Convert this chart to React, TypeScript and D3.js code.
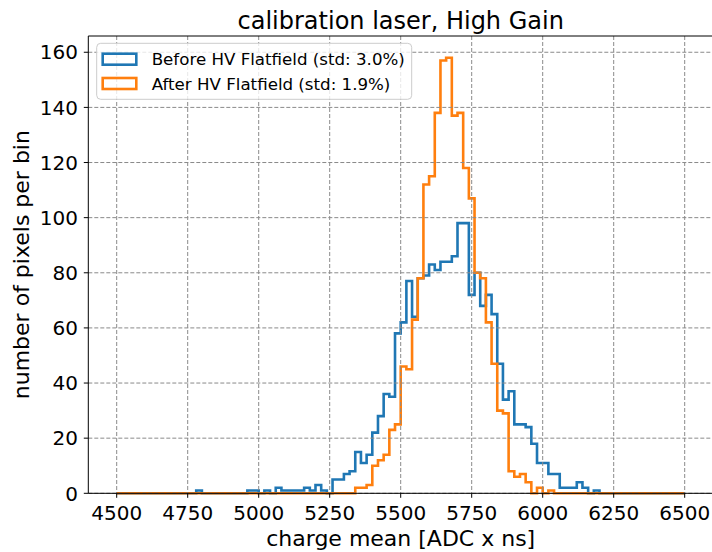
import React from 'react';
import * as d3 from 'd3';

const binStart = 4500;
const binWidth = 20;
const nBins = 100;

const beforeCounts = [
  0, 0, 0, 0, 0, 0, 0, 0, 0, 0,
  0, 0, 0, 0, 1, 0, 0, 0, 0, 0,
  0, 0, 0, 1, 1, 0, 1, 0, 2, 1,
  1, 1, 1, 2, 1, 3, 1, 0, 5, 5,
  7, 8, 15, 11, 14, 22, 28, 36, 35, 58,
  62, 77, 64, 78, 79, 83, 81, 84, 84, 86,
  98, 98, 72, 80, 68, 72, 65, 47, 34, 37,
  25, 25, 24, 18, 11, 11, 7, 7, 2, 2,
  2, 4, 2, 0, 1, 0, 0, 0, 0, 0,
  0, 0, 0, 0, 0, 0, 0, 0, 0, 0,
];

const afterCounts = [
  0, 0, 0, 0, 0, 0, 0, 0, 0, 0,
  0, 0, 0, 0, 0, 0, 0, 0, 0, 0,
  0, 0, 0, 0, 0, 0, 0, 0, 0, 0,
  0, 0, 0, 0, 0, 0, 0, 0, 0, 0,
  0, 0, 2, 2, 3, 10, 12, 14, 23, 25,
  46, 45, 63, 78, 112, 115, 138, 157, 158, 137,
  138, 118, 107, 80, 78, 62, 47, 30, 29, 8,
  6, 7, 4, 0, 2, 0, 1, 0, 0, 0,
  0, 0, 0, 0, 0, 0, 0, 0, 0, 0,
  0, 0, 0, 0, 0, 0, 0, 0, 0, 0,
];

const seriesLabels = ['Before HV Flatfield (std: 3.0%)', 'After HV Flatfield (std: 1.9%)'];
const seriesColors = ['#1f77b4', '#ff7f0e'];
const xTicks = [4500, 4750, 5000, 5250, 5500, 5750, 6000, 6250, 6500];
const yTicks = [0, 20, 40, 60, 80, 100, 120, 140, 160];
const title = 'calibration laser, High Gain';
const xLabel = 'charge mean [ADC x ns]';
const yLabel = 'number of pixels per bin';

const W = 712;
const H = 552;
const left = 88.3;
const right = 713.1;
const top = 36;
const bottom = 493.3;
const FONT = 'DejaVu Sans, sans-serif';

export default function App() {
  const x = d3.scaleLinear().domain([4400, 6600]).range([left, right]);
  const y = d3.scaleLinear().domain([0, 165.9]).range([bottom, top]);
  const edges = d3.range(nBins + 1).map((i) => binStart + i * binWidth);

  const stepPath = (counts: number[]) => {
    const pts: [number, number][] = [[edges[0], 0]];
    counts.forEach((c, i) => {
      pts.push([edges[i], c]);
      pts.push([edges[i + 1], c]);
    });
    pts.push([edges[nBins], 0]);
    return d3
      .line<[number, number]>()
      .x((d) => x(d[0]))
      .y((d) => y(d[1]))(pts) as string;
  };

  const series = [beforeCounts, afterCounts];

  return (
    <svg
      width={W}
      height={H}
      style={{ position: 'absolute', left: 0, top: 0, background: '#fff' }}
      fontFamily={FONT}
    >
      <rect x={0} y={0} width={W} height={H} fill="#fff" />
      {series.map((s, i) => (
        <path
          key={i}
          d={stepPath(s)}
          fill="none"
          stroke={seriesColors[i]}
          strokeWidth={2.6}
          strokeLinejoin="miter"
        />
      ))}
      {/* grid */}
      {xTicks.map((t) => (
        <line
          key={'gx' + t}
          x1={x(t)}
          x2={x(t)}
          y1={top}
          y2={bottom}
          stroke="#8a8a8a"
          strokeWidth={1}
          strokeDasharray="4,2"
        />
      ))}
      {yTicks.map((t) => (
        <line
          key={'gy' + t}
          x1={left}
          x2={right}
          y1={y(t)}
          y2={y(t)}
          stroke="#8a8a8a"
          strokeWidth={1}
          strokeDasharray="4,2"
        />
      ))}
      {/* spines */}
      <line x1={left} x2={left} y1={top} y2={bottom} stroke="#000" strokeWidth={1} />
      <line x1={left} x2={right} y1={bottom} y2={bottom} stroke="#000" strokeWidth={1} />
      <line x1={left} x2={right} y1={top} y2={top} stroke="#000" strokeWidth={1} />
      <line x1={right} x2={right} y1={top} y2={bottom} stroke="#000" strokeWidth={1} />
      {/* ticks */}
      {xTicks.map((t) => (
        <g key={'tx' + t}>
          <line x1={x(t)} x2={x(t)} y1={bottom} y2={bottom + 4.5} stroke="#000" strokeWidth={1} />
          <text x={x(t)} y={520} fontSize={20} textAnchor="middle" fill="#000">
            {t}
          </text>
        </g>
      ))}
      {yTicks.map((t) => (
        <g key={'ty' + t}>
          <line x1={left - 4.5} x2={left} y1={y(t)} y2={y(t)} stroke="#000" strokeWidth={1} />
          <text x={78} y={y(t)} dy="0.36em" fontSize={20} textAnchor="end" fill="#000">
            {t}
          </text>
        </g>
      ))}
      {/* labels */}
      <text x={(left + right) / 2} y={29} fontSize={24} textAnchor="middle" fill="#000">
        {title}
      </text>
      <text x={(left + right) / 2} y={545.5} fontSize={22} textAnchor="middle" fill="#000">
        {xLabel}
      </text>
      <text
        transform={`translate(28.5, ${(top + bottom) / 2}) rotate(-90)`}
        fontSize={22}
        textAnchor="middle"
        fill="#000"
      >
        {yLabel}
      </text>
      {/* legend */}
      <rect
        x={96.7}
        y={43.3}
        width={315}
        height={56}
        rx={4}
        fill="#fff"
        fillOpacity={0.8}
        stroke="#cccccc"
        strokeWidth={1}
      />
      {seriesLabels.map((lab, i) => (
        <g key={'lg' + i} transform={`translate(0, ${59.2 + i * 24.3})`}>
          <rect
            x={102.7}
            y={-5.5}
            width={33.6}
            height={11}
            fill="none"
            stroke={seriesColors[i]}
            strokeWidth={2.6}
          />
          <text x={151.7} y={0} dy="0.36em" fontSize={16.67} fill="#000">
            {lab}
          </text>
        </g>
      ))}
    </svg>
  );
}
